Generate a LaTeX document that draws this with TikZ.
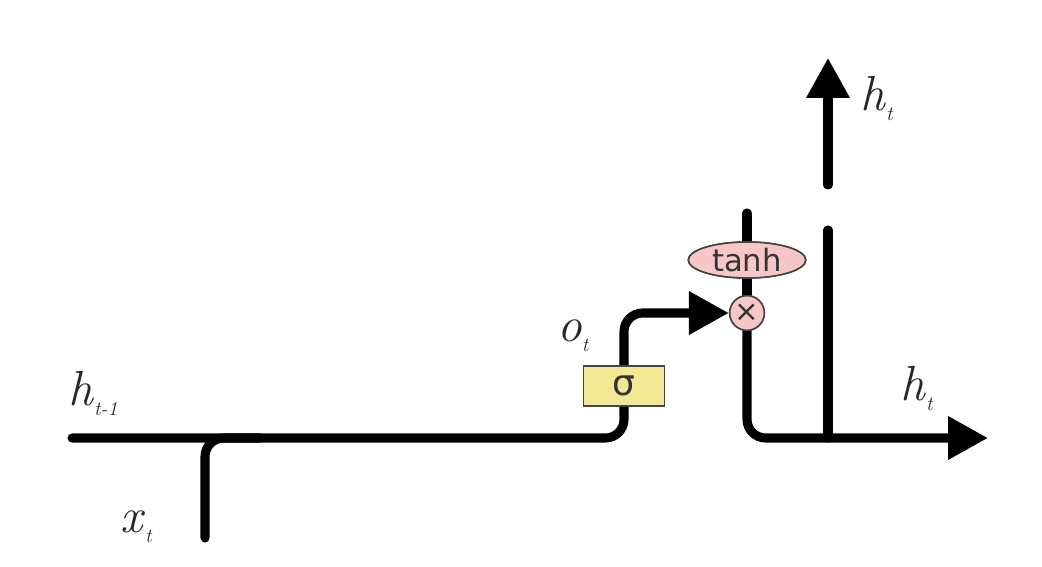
\documentclass[tikz,border=0pt]{standalone}
\usepackage{fontspec}
\newfontfamily\dejavu{DejaVu Sans}
\usetikzlibrary{arrows.meta,shapes.geometric}
\definecolor{sigyellow}{HTML}{F2E794}
\definecolor{gatepink}{HTML}{F7C6C6}
\definecolor{edgegray}{HTML}{444444}
\definecolor{textgray}{HTML}{333333}
\newcommand{\lblsub}[2]{\textit{#1}\raisebox{-0.22em}{\fontsize{15}{16}\selectfont\textit{#2}}}
\tikzset{
  wire/.style={line width=6.8pt, line cap=round, rounded corners=14pt},
  arrowwire/.style={wire, -{Triangle[length=30pt,width=31pt]}},
  sigbox/.style={draw=edgegray, line width=1.2pt, fill=sigyellow, minimum width=61pt, minimum height=30pt, inner sep=0pt, text=textgray, font=\dejavu\fontsize{27}{28}\selectfont},
  mult/.style={circle, draw=edgegray, line width=1.2pt, fill=gatepink, minimum size=26pt, inner sep=0pt, text=textgray, font=\dejavu\fontsize{22}{24}\selectfont},
  tanhnode/.style={ellipse, draw=edgegray, line width=1.2pt, fill=gatepink, minimum width=88pt, minimum height=27pt, inner sep=0pt, text=textgray, font=\dejavu\fontsize{23}{24}\selectfont},
  lbl/.style={anchor=base west, inner sep=0pt, text=black!85, font=\fontsize{37}{40}\selectfont}
}
\begin{document}
\begin{tikzpicture}[x=0.75pt,y=-0.75pt]
\useasboundingbox (0,0) rectangle (1042,567);
% coordinates
\coordinate (hin) at (72,438);
\coordinate (xin) at (205,538);
\coordinate (xj) at (260,438);
\coordinate (ttop) at (746,213);
\coordinate (hout) at (988,438);
\coordinate (vtop) at (828,230);
\coordinate (vj) at (828,438);
\coordinate (abot) at (828,185);
\coordinate (atop) at (828,58);
% nodes (placed first to get anchors)
\node[sigbox] (sig) at (624,386) {σ};
\node[tanhnode] (tanh) at (747,260) {tanh};
\node[mult] (mul) at (747,313) {×};
% wires
\draw[wire] (ttop -| tanh.north) -- (tanh.north);
\draw[wire] (hin) -| (sig.south);
\draw[wire] (xin) |- (xj);
\draw[arrowwire] (sig.north) |- (mul.west);
\draw[wire] (tanh.south) -- (mul.north);
\draw[arrowwire] (mul.south) |- (hout);
\draw[wire] (vtop) -- (vj);
\draw[arrowwire] (abot) -- (atop);
% redraw nodes on top of wires
\node[sigbox] at (sig) {σ};
\node[tanhnode] at (tanh) {tanh};
\node[mult] at (mul) {×};
% labels
\node[lbl] (lhprev) at (68,405) {\lblsub{h}{t-1}};
\node[lbl] (lx) at (120,532) {\lblsub{x}{t}};
\node[lbl] (lo) at (557,341) {\lblsub{o}{t}};
\node[lbl] (lh1) at (900,400) {\lblsub{h}{t}};
\node[lbl] (lh2) at (860,110) {\lblsub{h}{t}};
\end{tikzpicture}
\end{document}
